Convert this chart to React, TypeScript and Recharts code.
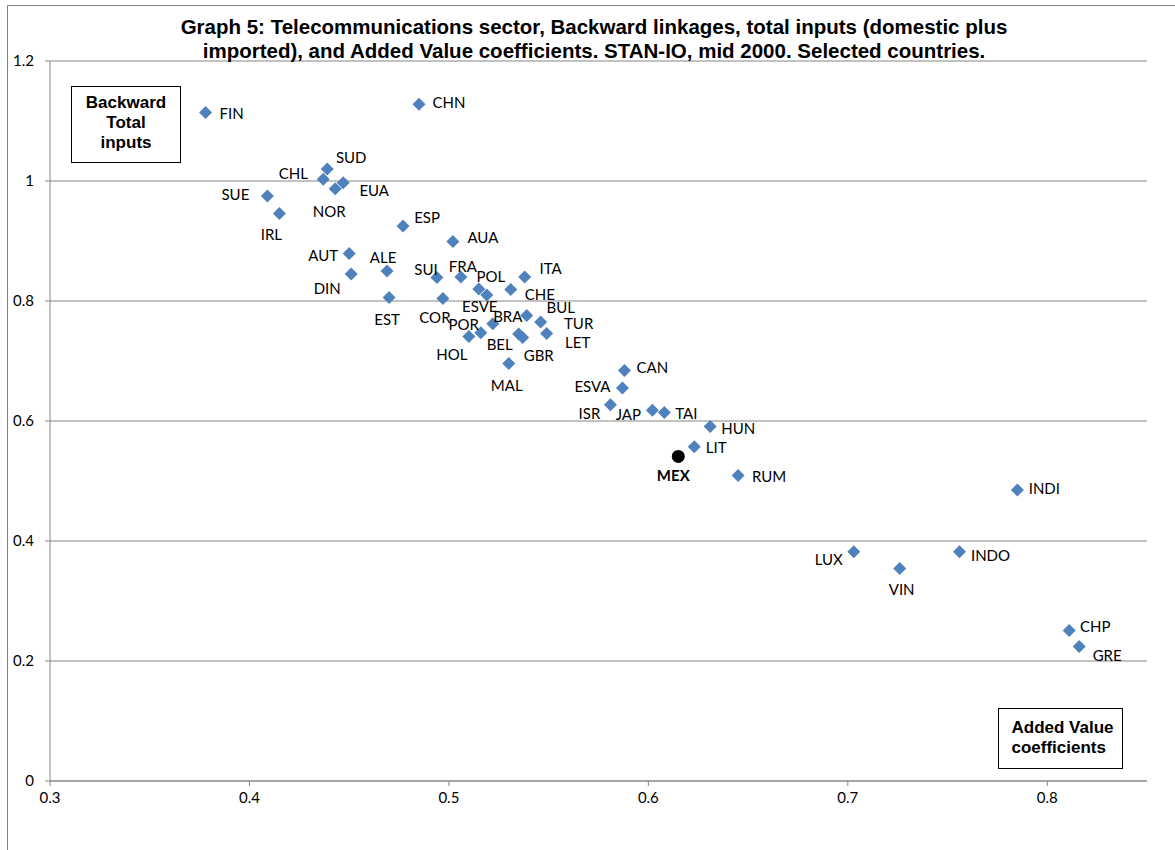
import React from 'react';
import { ScatterChart, Scatter, XAxis, YAxis, CartesianGrid } from 'recharts';

// Country codes, in plotting order
const countries = [
  'FIN', 'CHN', 'SUD', 'CHL', 'EUA', 'NOR', 'SUE', 'IRL', 'ESP', 'AUA',
  'AUT', 'ALE', 'DIN', 'SUI', 'FRA', 'ITA', 'POL', 'ESVE', 'CHE', 'EST',
  'COR', 'BRA', 'POR', 'HOL', 'BUL', 'TUR', 'LET', 'BEL', 'GBR', 'MAL',
  'CAN', 'ESVA', 'ISR', 'JAP', 'TAI', 'HUN', 'LIT', 'MEX', 'RUM', 'INDI',
  'LUX', 'VIN', 'INDO', 'CHP', 'GRE',
];

// Added Value coefficients (x)
const addedValue = [
  0.378, 0.485, 0.439, 0.437, 0.447, 0.443, 0.409, 0.415, 0.477, 0.502,
  0.450, 0.469, 0.451, 0.494, 0.506, 0.538, 0.515, 0.519, 0.531, 0.470,
  0.497, 0.522, 0.516, 0.510, 0.539, 0.546, 0.549, 0.535, 0.537, 0.530,
  0.588, 0.587, 0.581, 0.602, 0.608, 0.631, 0.623, 0.615, 0.645, 0.785,
  0.703, 0.726, 0.756, 0.811, 0.816,
];

// Backward linkages, total inputs (y)
const backwardInputs = [
  1.114, 1.128, 1.020, 1.003, 0.997, 0.987, 0.975, 0.946, 0.925, 0.899,
  0.879, 0.850, 0.845, 0.839, 0.840, 0.840, 0.820, 0.810, 0.819, 0.806,
  0.804, 0.762, 0.747, 0.741, 0.776, 0.765, 0.746, 0.745, 0.739, 0.696,
  0.684, 0.655, 0.627, 0.618, 0.614, 0.591, 0.557, 0.541, 0.509, 0.485,
  0.382, 0.354, 0.382, 0.251, 0.224,
];

const xTicks = [0.3, 0.4, 0.5, 0.6, 0.7, 0.8];
const yTicks = [0, 0.2, 0.4, 0.6, 0.8, 1, 1.2];
const highlighted = 'MEX';

const titleLines = [
  'Graph 5: Telecommunications sector, Backward linkages, total inputs (domestic plus',
  'imported), and Added Value coefficients. STAN-IO, mid 2000. Selected countries.',
];
const yBoxLines = ['Backward', 'Total', 'inputs'];
const xBoxLines = ['Added Value', 'coefficients'];

// Where each country's label sits, as a pixel offset from its marker
const labelOffsets: Record<string, [number, number]> = {
  FIN: [26, 0], CHN: [30, -2], SUD: [24, -12], CHL: [-30, -6], EUA: [31, 7],
  NOR: [-6, 22], SUE: [-32, -2], IRL: [-8, 21], ESP: [24, -9], AUA: [30, -5],
  AUT: [-26, 1], ALE: [-4, -14], DIN: [-24, 14], SUI: [-11, -9], FRA: [2, -11],
  ITA: [26, -9], POL: [12, -13], ESVE: [-7, 11], CHE: [29, 4], EST: [-2, 22],
  COR: [-8, 18], BRA: [15, -8], POR: [-17, -9], HOL: [-17, 18], BUL: [34, -8],
  TUR: [38, 1], LET: [31, 9], BEL: [-19, 10], GBR: [16, 17], MAL: [-2, 22],
  CAN: [28, -4], ESVA: [-30, -2], ISR: [-21, 8], JAP: [-24, 4], TAI: [22, 0],
  HUN: [28, 2], LIT: [22, 0], MEX: [-5, 19], RUM: [31, 0], INDI: [27, -2],
  LUX: [-25, 7], VIN: [2, 20], INDO: [31, 3], CHP: [26, -4], GRE: [28, 8],
};

const points = countries.map((name, i) => ({ name, x: addedValue[i], y: backwardInputs[i] }));
const regular = points.filter((p) => p.name !== highlighted);
const special = points.filter((p) => p.name === highlighted);

const LABEL_FONT = 'Lato, "Open Sans", sans-serif';
const BOLD_FONT = '"Liberation Sans", Arial, sans-serif';
const AXIS_GRAY = '#868686';

const DiamondMarker = (props: any) => {
  const { cx, cy } = props;
  if (cx == null || cy == null) return null;
  const r = 6.5;
  return (
    <polygon
      points={`${cx},${cy - r} ${cx + r},${cy} ${cx},${cy + r} ${cx - r},${cy}`}
      fill="#4F81BD"
    />
  );
};

const DotMarker = (props: any) => {
  const { cx, cy } = props;
  if (cx == null || cy == null) return null;
  return <circle cx={cx} cy={cy} r={6.5} fill="#000" />;
};

const CountryLabel = (props: any) => {
  const { cx, cy, payload } = props;
  if (cx == null || cy == null || !payload) return null;
  const [dx, dy] = labelOffsets[payload.name] ?? [25, 0];
  const bold = payload.name === highlighted;
  return (
    <text
      x={cx + dx}
      y={cy + dy}
      textAnchor="middle"
      dominantBaseline="central"
      fontFamily={LABEL_FONT}
      fontWeight={bold ? 700 : 400}
      fontSize={15}
      fill="#000"
    >
      {payload.name}
    </text>
  );
};

export default function App() {
  return (
    <div style={{ position: 'absolute', left: 0, top: 0, width: 1175, height: 850, background: '#fff' }}>
      <ScatterChart width={1175} height={850} margin={{ top: 61, right: 28, bottom: 39, left: 0 }}>
        <CartesianGrid horizontal vertical={false} stroke={AXIS_GRAY} strokeWidth={1} />
        <XAxis
          type="number"
          dataKey="x"
          domain={[0.3, 0.85]}
          ticks={xTicks}
          allowDataOverflow
          height={30}
          tickFormatter={(v: number) => v.toFixed(1)}
          axisLine={{ stroke: AXIS_GRAY }}
          tickLine={{ stroke: AXIS_GRAY }}
          tickSize={5}
          tickMargin={6}
          tick={{ fill: '#000', fontFamily: LABEL_FONT, fontSize: 15 }}
        />
        <YAxis
          type="number"
          dataKey="y"
          domain={[0, 1.2]}
          ticks={yTicks}
          allowDataOverflow
          width={50}
          tickFormatter={(v: number) => String(v)}
          axisLine={{ stroke: AXIS_GRAY }}
          tickLine={{ stroke: AXIS_GRAY }}
          tickSize={5}
          tickMargin={11}
          tick={{ fill: '#000', fontFamily: LABEL_FONT, fontSize: 15 }}
        />
        <Scatter data={regular} shape={DiamondMarker} isAnimationActive={false} />
        <Scatter data={special} shape={DotMarker} isAnimationActive={false} />
        <Scatter data={points} shape={CountryLabel} isAnimationActive={false} />
      </ScatterChart>
      <svg
        width={1175}
        height={850}
        style={{ position: 'absolute', left: 0, top: 0, pointerEvents: 'none' }}
      >
        <path d="M7.5 850 L7.5 5.5 L1175 5.5" fill="none" stroke="#7f7f7f" strokeWidth={1} />
        <g fontFamily={BOLD_FONT} fontWeight={700} fontSize={20.5} fill="#000" textAnchor="middle">
          {titleLines.map((line, i) => (
            <text key={i} x={594} y={33.5 + i * 24}>
              {line}
            </text>
          ))}
        </g>
        <rect x={71.5} y={86.5} width={109} height={76} fill="#fff" stroke="#000" strokeWidth={1} />
        <g fontFamily={BOLD_FONT} fontWeight={700} fontSize={17} fill="#000" textAnchor="middle">
          {yBoxLines.map((line, i) => (
            <text key={i} x={126} y={108 + i * 20}>
              {line}
            </text>
          ))}
        </g>
        <rect x={998.5} y={708.5} width={124} height={60} fill="#fff" stroke="#000" strokeWidth={1} />
        <g fontFamily={BOLD_FONT} fontWeight={700} fontSize={17} fill="#000" textAnchor="start">
          {xBoxLines.map((line, i) => (
            <text key={i} x={1011.5} y={732.5 + i * 20}>
              {line}
            </text>
          ))}
        </g>
      </svg>
    </div>
  );
}
